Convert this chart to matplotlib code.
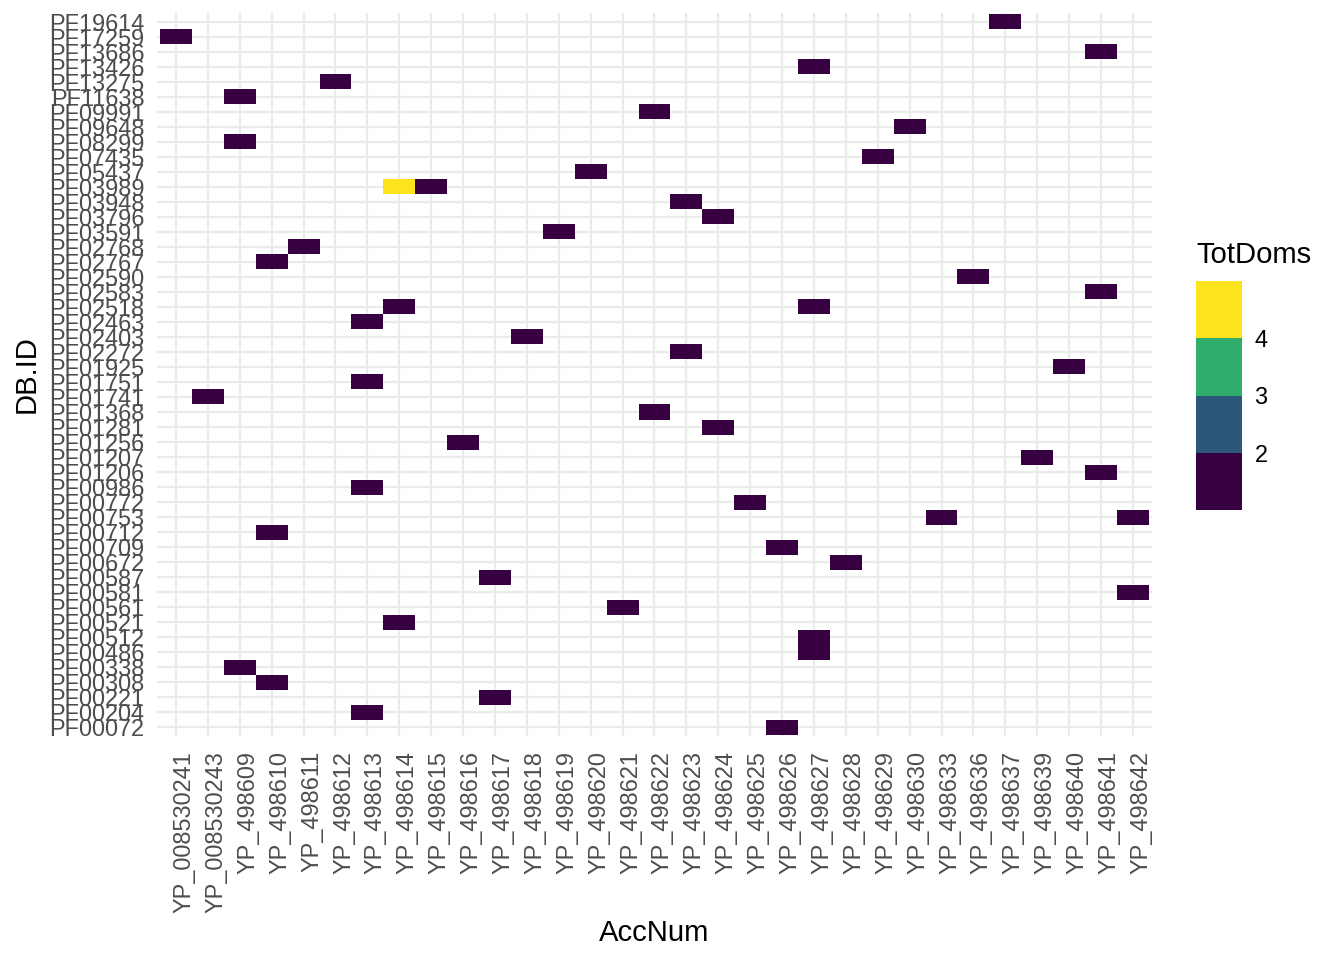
import matplotlib.pyplot as plt
import matplotlib.transforms as mtransforms
import numpy as np
from matplotlib.colors import ListedColormap, BoundaryNorm

# -----------------------------
# data
# -----------------------------
acc_nums = ["YP_008530241", "YP_008530243", "YP_498609", "YP_498610", "YP_498611",
            "YP_498612", "YP_498613", "YP_498614", "YP_498615", "YP_498616",
            "YP_498617", "YP_498618", "YP_498619", "YP_498620", "YP_498621",
            "YP_498622", "YP_498623", "YP_498624", "YP_498625", "YP_498626",
            "YP_498627", "YP_498628", "YP_498629", "YP_498630", "YP_498633",
            "YP_498636", "YP_498637", "YP_498639", "YP_498640", "YP_498641",
            "YP_498642"]

db_ids = ["PF00072", "PF00204", "PF00221", "PF00308", "PF00338", "PF00486",
          "PF00512", "PF00521", "PF00561", "PF00581", "PF00587", "PF00672",
          "PF00709", "PF00712", "PF00753", "PF00772", "PF00986", "PF01206",
          "PF01207", "PF01256", "PF01281", "PF01368", "PF01741", "PF01751",
          "PF01925", "PF02272", "PF02403", "PF02463", "PF02518", "PF02583",
          "PF02590", "PF02767", "PF02768", "PF03591", "PF03796", "PF03948",
          "PF03989", "PF05437", "PF07435", "PF08299", "PF09648", "PF09991",
          "PF11638", "PF13275", "PF13426", "PF13686", "PF17259", "PF19614"]

# each hit: (accession, domain)
hit_acc = ["YP_498637", "YP_008530241", "YP_498641", "YP_498627", "YP_498612",
           "YP_498609", "YP_498622", "YP_498630", "YP_498609", "YP_498629",
           "YP_498620", "YP_498614", "YP_498615", "YP_498623", "YP_498624",
           "YP_498619", "YP_498611", "YP_498610", "YP_498636", "YP_498641",
           "YP_498614", "YP_498627", "YP_498613", "YP_498618", "YP_498623",
           "YP_498640", "YP_498613", "YP_008530243", "YP_498622", "YP_498624",
           "YP_498616", "YP_498639", "YP_498641", "YP_498613", "YP_498625",
           "YP_498633", "YP_498642", "YP_498610", "YP_498626", "YP_498628",
           "YP_498617", "YP_498642", "YP_498621", "YP_498614", "YP_498627",
           "YP_498627", "YP_498609", "YP_498610", "YP_498617", "YP_498613",
           "YP_498626"]
hit_db = ["PF19614", "PF17259", "PF13686", "PF13426", "PF13275",
          "PF11638", "PF09991", "PF09648", "PF08299", "PF07435",
          "PF05437", "PF03989", "PF03989", "PF03948", "PF03796",
          "PF03591", "PF02768", "PF02767", "PF02590", "PF02583",
          "PF02518", "PF02518", "PF02463", "PF02403", "PF02272",
          "PF01925", "PF01751", "PF01741", "PF01368", "PF01281",
          "PF01256", "PF01207", "PF01206", "PF00986", "PF00772",
          "PF00753", "PF00753", "PF00712", "PF00709", "PF00672",
          "PF00587", "PF00581", "PF00561", "PF00521", "PF00512",
          "PF00486", "PF00338", "PF00308", "PF00221", "PF00204",
          "PF00072"]
tot_doms = [1] * len(hit_acc)
tot_doms[11] = 5  # YP_498614 / PF03989

bin_edges = [1, 2, 3, 4, 5]
bin_colors = ["#370041", "#2A577A", "#2FAF6B", "#FDE31E"]

# -----------------------------
# figure
# -----------------------------
plt.rcParams["font.family"] = ["Liberation Sans", "DejaVu Sans"]
fig = plt.figure(figsize=(13.44, 9.6), dpi=100)
ax = fig.add_axes([0.1167, 0.2333, 0.8572 - 0.1167, 0.9865 - 0.2333])

grid = np.full((len(db_ids), len(acc_nums)), np.nan)
for a, d, v in zip(hit_acc, hit_db, tot_doms):
    grid[db_ids.index(d), acc_nums.index(a)] = v

cmap = ListedColormap(bin_colors)
norm = BoundaryNorm(bin_edges, cmap.N)
xe = np.arange(len(acc_nums) + 1) - 0.5
ye = np.arange(len(db_ids) + 1) - 0.5
ax.pcolormesh(xe, ye, np.ma.masked_invalid(grid), cmap=cmap, norm=norm, zorder=2)

ax.set_xlim(-0.6, len(acc_nums) - 0.4)
ax.set_ylim(-0.6, len(db_ids) - 0.4)
ax.set_xticks(np.arange(len(acc_nums)))
ax.set_xticklabels(acc_nums, rotation=90, fontsize=16.9, color="#4D4D4D")
ax.set_yticks(np.arange(len(db_ids)))
ax.set_yticklabels(db_ids, fontsize=16.9, color="#4D4D4D")
ax.tick_params(axis="x", length=0, pad=11)
ax.tick_params(axis="y", length=0, pad=9)
# ggplot puts the rotated labels a little to the right of the tick
shift = mtransforms.ScaledTranslation(8 / 100, 0, fig.dpi_scale_trans)
for lbl in ax.get_xticklabels():
    lbl.set_transform(lbl.get_transform() + shift)
ax.grid(True, color="#EBEBEB", linewidth=1.6, zorder=0)
ax.set_axisbelow(True)
for s in ax.spines.values():
    s.set_visible(False)
ax.set_xlabel("AccNum", fontsize=21.1, labelpad=4)
ax.set_ylabel("DB.ID", fontsize=21.1, labelpad=6)

# -----------------------------
# legend (binned colour steps)
# -----------------------------
lax = fig.add_axes([1196 / 1344, 1 - 510 / 960, 46 / 1344, 229 / 960])
for i, c in enumerate(bin_colors):
    lax.bar(0, bin_edges[i + 1] - bin_edges[i], bottom=bin_edges[i], width=1,
            color=c, linewidth=0)
lax.set_xlim(-0.5, 0.5)
lax.set_ylim(bin_edges[0], bin_edges[-1])
lax.set_xticks([])
lax.yaxis.tick_right()
lax.set_yticks(bin_edges[1:-1])
lax.tick_params(axis="y", length=0, pad=9, labelsize=16.9)
for s in lax.spines.values():
    s.set_visible(False)
fig.text(1196 / 1344, 1 - 255 / 960, "TotDoms", fontsize=21.1, va="center", ha="left")

plt.savefig("out.png", dpi=100)
